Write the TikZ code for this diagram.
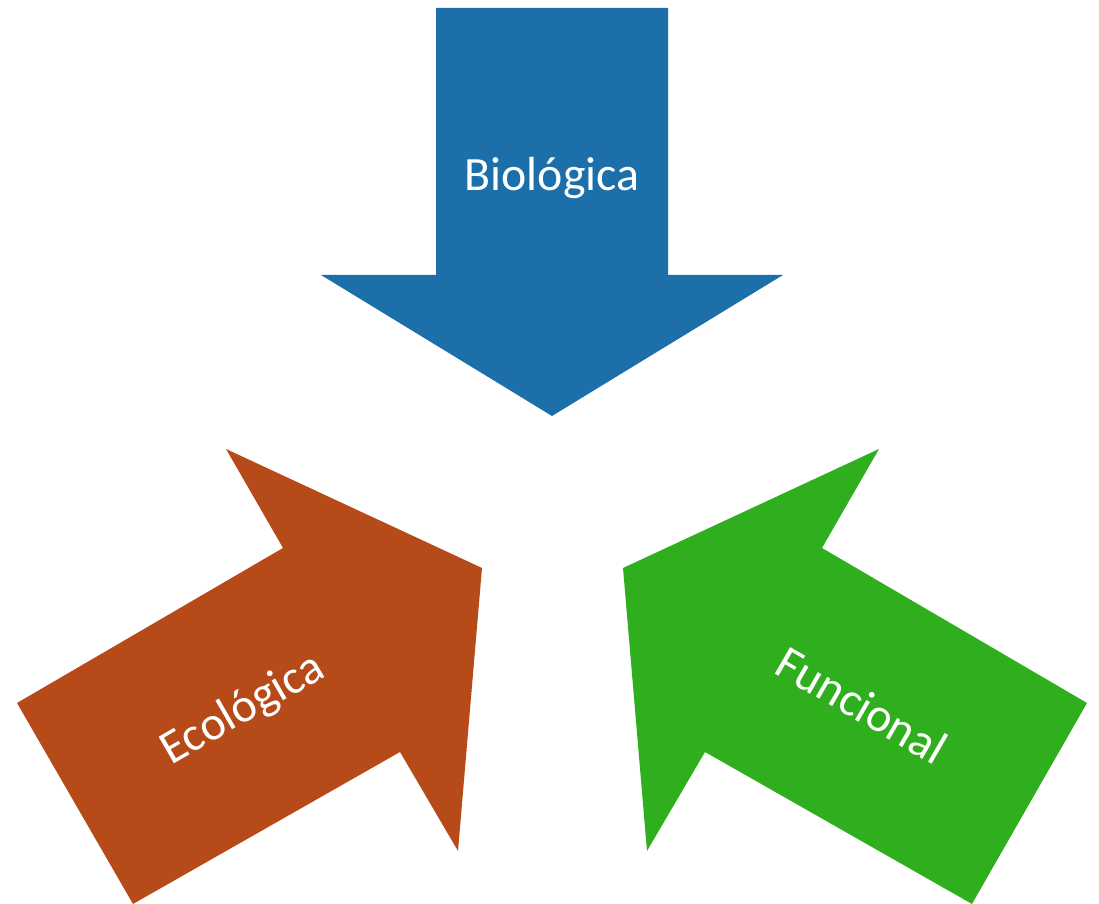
\documentclass[tikz,border=0pt]{standalone}
\usepackage{fontspec}
\setmainfont{Carlito}
\definecolor{cblue}{HTML}{1C6FA8}
\definecolor{corange}{HTML}{B64A18}
\definecolor{cgreen}{HTML}{30AF1E}
\begin{document}
\begin{tikzpicture}[x=0.01cm,y=-0.01cm,
  lbl/.style={text=white,font=\fontsize{13.6}{16}\selectfont,inner sep=0pt}]
\useasboundingbox (0,0) rectangle (1099,904);
\fill[cblue] (436,8) -- (668,8) -- (668,275) -- (783,275) -- (552,416) -- (321,275) -- (436,275) -- cycle;
\fill[corange] (226,449) -- (482,568) -- (458,851) -- (400,752) -- (133,904) -- (17,703) -- (283,548) -- cycle;
\fill[cgreen] (879,449) -- (623,568) -- (647,851) -- (705,752) -- (972,904) -- (1087,703) -- (822,548) -- cycle;
\node[lbl] (bio) at (552,178) {Biológica};
\node[lbl,rotate=30] (eco) at (243,710) {Ecológica};
\node[lbl,rotate=-30] (fun) at (862,705) {Funcional};
\end{tikzpicture}
\end{document}
